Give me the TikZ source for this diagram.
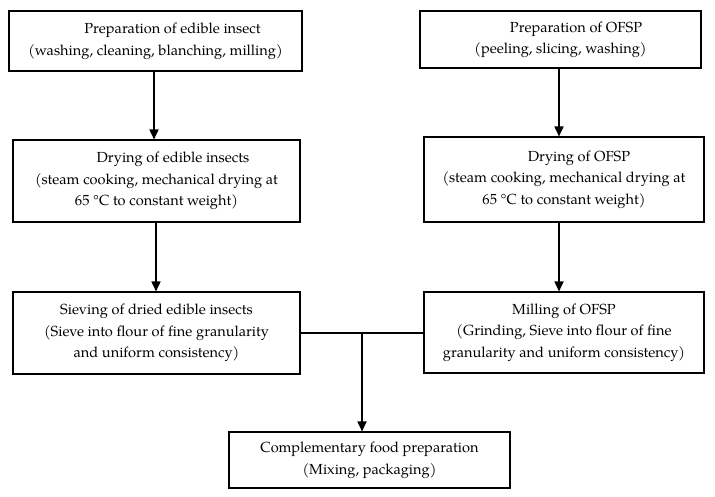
\documentclass[tikz,border=0pt]{standalone}
\usepackage{fontspec}
\setmainfont{TeX Gyre Pagella}
\usetikzlibrary{arrows.meta}
\tikzset{
  box/.style={draw, line width=1.1pt, inner sep=0pt, align=center,
    font=\fontsize{14.6}{21.5}\selectfont},
  flow/.style={line width=1.7pt, -{Triangle[width=9pt,length=10pt]}},
  link/.style={line width=1.7pt}
}
\begin{document}
\begin{tikzpicture}[x=1pt,y=-1pt]
\useasboundingbox (0,0) rectangle (715,496);
\node[box, minimum width=293pt, minimum height=60pt] (A) at (155.5,41)
  {\hspace*{34pt}Preparation of edible insect\\(washing, cleaning, blanching, milling)};
\node[box, minimum width=287pt, minimum height=82pt] (B) at (156.5,181)
  {\hspace*{33pt}Drying of edible insects\\(steam cooking, mechanical drying at\\65 °C to constant weight)};
\node[box, minimum width=287pt, minimum height=82pt] (C) at (156.5,333)
  {Sieving of dried edible insects\\(Sieve into flour of fine granularity\\and uniform consistency)};
\node[box, minimum width=281pt, minimum height=57pt] (D) at (560.5,39.5)
  {\hspace*{31pt}Preparation of OFSP\\(peeling, slicing, washing)};
\node[box, minimum width=280pt, minimum height=85pt] (E) at (564,179.5)
  {\hspace*{30pt}Drying of OFSP\\(steam cooking, mechanical drying at\\65 °C to constant weight)};
\node[box, minimum width=280pt, minimum height=81pt] (F) at (564,332.5)
  {Milling of OFSP\\(Grinding, Sieve into flour of fine\\granularity and uniform consistency)};
\node[box, minimum width=281pt, minimum height=56pt] (G) at (369.5,460)
  {Complementary food preparation\\(Mixing, packaging)};
% connectors
\draw[flow] ([xshift=-1.5pt]A.south) -- ([xshift=-1.5pt]A.south |- B.north);
\draw[flow] ([xshift=-0.5pt]B.south) -- ([xshift=-0.5pt]B.south |- C.north);
\draw[flow] ([xshift=-1.5pt]D.south) -- ([xshift=-1.5pt]D.south |- E.north);
\draw[flow] ([xshift=-5pt]E.south) -- ([xshift=-5pt]E.south |- F.north);
\draw[link] (C.east) -- (C.east -| F.west);
\coordinate (J) at (362,333);
\draw[flow] (J) -- (J |- G.north);
\end{tikzpicture}
\end{document}
